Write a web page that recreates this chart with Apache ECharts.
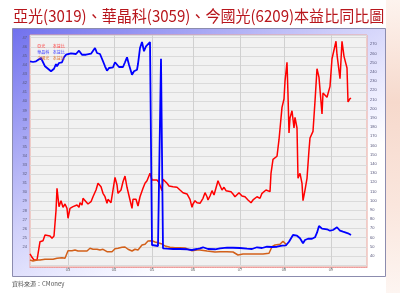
<!DOCTYPE html>
<html>
<head>
<meta charset="utf-8">
<script src="https://cdn.jsdelivr.net/npm/echarts@6/dist/echarts.min.js"></script>
<style>
html,body{margin:0;padding:0;background:#ffffff;}
#chart{width:400px;height:293px;}
</style>
</head>
<body>
<div id="chart"></div>
<script>
// period index along the x axis (one category per period)
const categories = Array.from({length: 338}, (_, i) => String(i));
// x tick labels and the periods where they sit
const tickLabels = ['03', '04', '05', '06', '07', '08', '09'];
const tickIdx = [38, 84, 122, 163, 210, 254, 301];

const titleText = '亞光(3019)、華晶科(3059)、今國光(6209)本益比同比圖';
const sourceText = '資料來源：CMoney';
const seriesNames = ['亞光', '華晶科', '今國光'];
const legendSuffix = '本益比';

// 亞光 P/E (right axis)
const yaguangPE = [[0,42.0],[2,38.4],[4,35.4],[7,35.4],[9,34.7],[10,55.3],[13,56.4],[15,62.6],[17,63.7],[20,61.5],[22,59.0],[24,61.5],[26,89.0],[27,113.4],[29,93.4],[31,99.9],[33,92.7],[35,96.3],[37,91.6],[38,80.8],[40,91.6],[43,93.4],[45,92.7],[47,95.2],[49,92.7],[50,97.7],[52,95.2],[53,102.5],[56,98.8],[58,96.3],[61,98.8],[63,104.2],[66,111.5],[68,118.8],[71,115.1],[73,107.9],[75,104.2],[77,97.1],[78,101.4],[81,97.7],[83,97.7],[85,125.3],[87,117.0],[88,107.9],[91,111.5],[93,120.5],[95,126.7],[97,114.5],[100,100.7],[102,91.6],[103,101.4],[106,101.4],[108,94.1],[110,104.2],[113,113.4],[115,118.8],[117,121.6],[120,129.7],[122,122.4],[124,120.5],[127,122.4],[129,119.5],[132,110.8],[133,123.2],[135,125.3],[137,118.8],[139,115.9],[143,115.1],[147,114.5],[150,111.5],[153,108.6],[157,107.2],[160,101.4],[162,92.7],[163,96.3],[165,99.9],[167,97.7],[170,97.1],[173,102.5],[175,108.6],[177,104.2],[178,100.7],[180,105.0],[182,110.8],[184,106.1],[186,107.9],[188,121.6],[189,118.8],[192,111.5],[194,114.5],[196,110.8],[198,109.7],[201,109.7],[203,107.2],[205,104.2],[207,106.1],[209,108.6],[212,105.0],[215,104.2],[218,100.7],[221,97.7],[223,100.7],[225,102.5],[227,104.2],[230,102.5],[232,107.9],[234,108.6],[236,111.5],[238,112.3],[240,109.7],[241,129.7],[243,144.9],[245,144.1],[247,148.2],[249,166.2],[252,201.4],[254,210.4],[255,229.7],[257,250.3],[258,215.1],[259,173.5],[260,189.8],[262,197.7],[264,178.9],[265,190.5],[267,178.9],[268,124.2],[270,129.7],[272,118.8],[273,99.9],[275,111.5],[277,124.2],[279,155.0],[280,168.0],[283,175.3],[285,207.9],[287,243.4],[289,234.0],[292,194.1],[293,217.0],[295,218.0],[297,212.3],[300,224.2],[302,254.2],[303,252.1],[306,273.2],[307,258.6],[310,232.5],[312,273.2],[314,256.8],[317,244.1],[318,207.2],[320,210.8],[321,211.5]];

// 華晶科 P/E (left axis)
const huajingPE = [[0,44.41],[3,44.33],[6,44.41],[8,44.30],[11,44.77],[13,44.69],[15,43.86],[18,43.59],[21,43.31],[23,43.31],[24,43.59],[26,44.11],[27,43.86],[29,44.22],[32,44.30],[34,44.85],[36,45.13],[38,45.07],[41,45.29],[43,45.07],[46,45.21],[49,45.57],[52,45.13],[54,45.24],[56,45.13],[58,45.32],[61,45.24],[63,45.43],[65,45.87],[67,45.32],[70,45.21],[73,44.41],[75,43.86],[77,43.37],[79,43.67],[83,43.75],[85,44.30],[87,44.25],[89,43.78],[93,43.78],[95,44.30],[97,44.85],[99,44.03],[102,42.93],[104,43.31],[107,43.48],[108,44.11],[110,45.87],[112,46.53],[114,45.51],[116,46.06],[118,46.17],[120,46.53],[122,24.2],[123,24.09],[128,24.09],[131,44.69],[133,23.84],[137,23.80],[143,23.76],[150,23.76],[157,23.73],[162,23.65],[167,23.76],[170,23.84],[173,23.95],[178,23.76],[185,23.73],[190,23.84],[197,23.90],[203,23.90],[210,23.87],[217,23.80],[222,23.76],[227,23.95],[232,23.87],[237,24.01],[242,23.98],[247,24.01],[252,24.12],[256,24.17],[259,24.56],[263,25.30],[267,25.22],[270,24.94],[273,24.39],[275,24.75],[278,24.89],[282,24.89],[285,25.05],[287,25.55],[289,26.29],[292,26.00],[294,26.15],[297,25.93],[300,25.77],[303,25.85],[305,25.85],[307,26.15],[310,25.77],[313,25.66],[315,25.71],[318,25.49],[321,25.30]];

// 今國光 P/E (left axis)
const jinguoguangPE = [[0,22.55],[3,22.44],[7,22.55],[10,22.55],[15,22.63],[23,22.63],[27,22.74],[29,22.69],[32,22.80],[35,22.74],[38,23.57],[42,23.57],[45,23.65],[48,23.54],[52,23.54],[57,23.54],[60,23.84],[63,23.73],[67,23.73],[70,23.65],[73,23.73],[77,23.46],[82,23.46],[85,23.79],[88,23.84],[92,23.95],[95,23.98],[98,23.73],[102,23.54],[105,23.73],[108,23.65],[112,24.20],[115,24.28],[118,24.64],[122,24.67],[125,24.53],[128,24.45],[132,24.31],[135,24.09],[140,23.95],[145,23.90],[150,23.90],[155,23.87],[162,23.57],[167,23.65],[170,23.65],[177,23.54],[185,23.43],[190,23.46],[197,23.46],[203,23.43],[208,23.10],[213,23.21],[220,23.21],[227,23.21],[233,23.21],[239,23.29],[242,24.01],[245,24.20],[250,24.28],[253,24.61],[255,24.39],[257,24.17]];

const chart = echarts.init(document.getElementById('chart'), null, {renderer: 'canvas'});
const isTick = (i) => tickIdx.indexOf(i) >= 0;
const axisFont = '"Liberation Sans", Arial, sans-serif';
const cjkFont = '"Noto Sans CJK TC", sans-serif';

const option = {
  animation: false,
  grid: {left: 30, top: 35, width: 337, height: 230},
  legend: {
    orient: 'vertical', left: 27.3, top: 39,
    itemWidth: 0, itemHeight: 4, itemGap: 2.2, icon: 'rect',
    data: [
      {name: seriesNames[0], textStyle: {color: '#ff3a3a'}},
      {name: seriesNames[1], textStyle: {color: '#3a3aff'}},
      {name: seriesNames[2], textStyle: {color: '#e0702a'}}
    ],
    formatter: (n) => '{a|' + n + '}{b|' + legendSuffix + '}',
    textStyle: {fontSize: 4, fontFamily: cjkFont,
      rich: {a: {width: 15.4, fontSize: 4, fontFamily: cjkFont}, b: {fontSize: 4, fontFamily: cjkFont}}}
  },
  xAxis: {
    type: 'category', data: categories, boundaryGap: false, offset: 2,
    axisLine: {lineStyle: {color: '#ee9a9a', type: 'dotted', width: 1.2}},
    axisTick: {show: true, interval: (i) => isTick(i), length: 2, lineStyle: {color: '#aaaaaa'}},
    axisLabel: {interval: (i) => isTick(i), formatter: (v, i) => tickLabels[tickIdx.indexOf(i)] || '',
      fontSize: 4, color: '#666666', margin: 1, fontFamily: axisFont},
    splitLine: {show: true, interval: (i) => isTick(i), lineStyle: {color: '#d0d0d0', width: 1}}
  },
  yAxis: [
    {type: 'value', position: 'left', min: 22, max: 47.3, interval: 1,
      axisLine: {show: false}, axisTick: {show: false},
      axisLabel: {fontSize: 4, color: '#55557a', margin: 3, fontFamily: axisFont,
        formatter: (v) => (v >= 24 && Number.isInteger(v)) ? String(v) : ''},
      splitLine: {lineStyle: {color: '#dadada', width: 1}}},
    {type: 'value', position: 'right', min: 30, max: 280, interval: 10,
      axisLine: {show: false}, axisTick: {show: false},
      axisLabel: {fontSize: 4, color: '#55557a', margin: 3, fontFamily: axisFont,
        formatter: (v) => (v >= 40 && v <= 270) ? String(v) : ''},
      splitLine: {show: false}}
  ],
  graphic: [
    {type: 'rect', z: -10, silent: true, shape: {x: 386, y: 0, width: 14, height: 293},
      style: {fill: {type: 'linear', x: 0, y: 0, x2: 0, y2: 1, colorStops: [
        {offset: 0, color: '#fdf3ee'}, {offset: 0.35, color: '#f6d9cc'}, {offset: 0.7, color: '#fae6dd'}, {offset: 1, color: '#fdf5f1'}]}}},
    {type: 'rect', z: -9, silent: true, shape: {x: 12.5, y: 28.5, width: 373, height: 248},
      style: {fill: {type: 'linear', x: 0, y: 0, x2: 0.4, y2: 1, colorStops: [
        {offset: 0, color: '#7070ee'}, {offset: 0.35, color: '#a8a8f4'}, {offset: 0.6, color: '#d0d0fa'}, {offset: 0.9, color: '#f4f4ff'}, {offset: 1, color: '#ffffff'}]},
        stroke: '#8c8cae', lineWidth: 1}},
    {type: 'rect', z: -8, silent: true, shape: {x: 30, y: 35, width: 337, height: 232},
      style: {fill: '#f1f1f1', stroke: '#eca69d', lineWidth: 1}},
    {type: 'text', x: 13, y: 8, scaleX: 0.94, silent: true,
      style: {text: titleText, fill: '#b8161c', font: '16px ' + cjkFont, align: 'left', verticalAlign: 'top'}},
    {type: 'text', x: 12, y: 280.5, silent: true,
      style: {text: sourceText, fill: '#555555', font: '6px ' + cjkFont, align: 'left', verticalAlign: 'top'}}
  ],
  series: [
    {name: seriesNames[0], type: 'line', yAxisIndex: 1, data: yaguangPE, symbol: 'none',
      lineStyle: {color: '#ff0000', width: 1.5}, itemStyle: {color: '#ff0000'}},
    {name: seriesNames[2], type: 'line', yAxisIndex: 0, data: jinguoguangPE, symbol: 'none',
      lineStyle: {color: '#d2601a', width: 1.5}, itemStyle: {color: '#d2601a'}},
    {name: seriesNames[1], type: 'line', yAxisIndex: 0, data: huajingPE, symbol: 'none',
      lineStyle: {color: '#0000ff', width: 1.8}, itemStyle: {color: '#0000ff'}}
  ]
};
chart.setOption(option);
</script>
</body>
</html>
